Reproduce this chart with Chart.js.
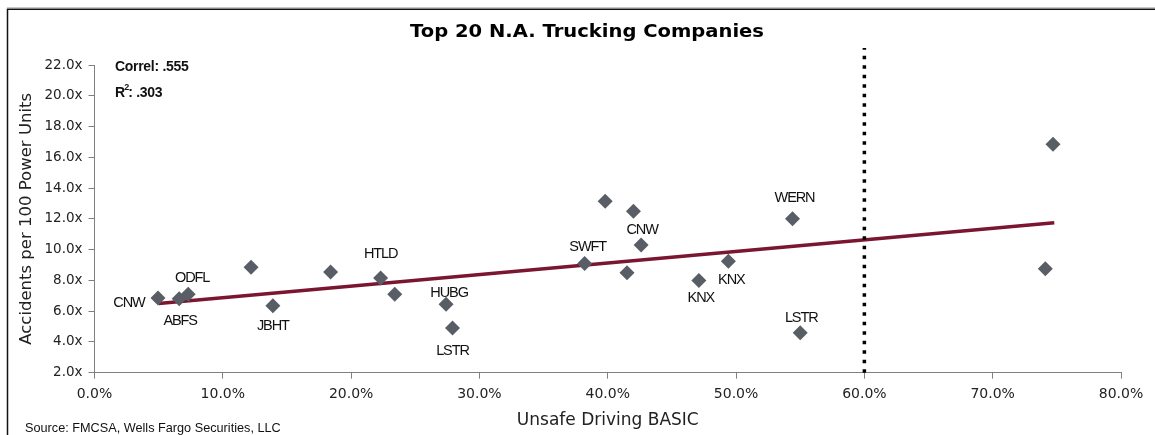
<!DOCTYPE html>
<html><head><meta charset="utf-8">
<script src="https://cdn.jsdelivr.net/npm/chart.js@4.4.1/dist/chart.umd.min.js"></script>
<style>html,body{margin:0;padding:0;background:#fff}#wrap{width:1155px;height:435px;position:relative}</style>
</head><body><div id="wrap"><canvas id="c"></canvas></div>
<script>
const titleText = 'Top 20 N.A. Trucking Companies';
const xAxisTitle = 'Unsafe Driving BASIC';
const yAxisTitle = 'Accidents per 100 Power Units';
const sourceText = 'Source: FMCSA, Wells Fargo Securities, LLC';
const correlText = 'Correl: .555';
const r2Text = ': .303';
const companies = ['CNW','ABFS','ODFL','','JBHT','','HTLD','','HUBG','LSTR','SWFT','','','','CNW','KNX','KNX','WERN','LSTR','',''];
const unsafeDriving = [4.95,6.6,7.3,12.2,13.9,18.4,22.3,23.4,27.4,27.9,38.2,39.8,41.5,42.0,42.6,47.1,49.4,54.4,55.0,74.7,74.1];
const accidents = [6.85,6.8,7.1,8.85,6.35,8.55,8.15,7.1,6.45,4.9,9.1,13.15,8.5,12.5,10.3,8.0,9.25,12.0,4.6,16.85,8.75];
const trendX = [5.0, 74.8];
const trendY = [6.5, 11.75];
const thresholdX = 60;
const thresholdY = [2, 23.1];
const xTicks = [0,10,20,30,40,50,60,70,80];
const yTicks = [2,4,6,8,10,12,14,16,18,20,22];
// label placement (pixel offsets from the point)
const labelOffsets = [[-29,5],[1,22],[4,-16],null,[0,20],null,[0,-24],null,[3,-11],[0,23],[3,-16],null,null,null,[1,-15],[2,18],[3,19],[2,-21],[1,-15],null,null];

const pts = unsafeDriving.map((x,i)=>({x:x, y:accidents[i]}));
const trend = trendX.map((x,i)=>({x:x, y:trendY[i]}));
const thr = thresholdY.map(y=>({x:thresholdX, y:y}));

const deco = {
  id:'deco',
  beforeDraw(chart){
    const ctx = chart.ctx;
    ctx.save();
    ctx.fillStyle='#fff'; ctx.fillRect(0,0,chart.width,chart.height);
    ctx.strokeStyle='#c8c8c8'; ctx.lineWidth=1;
    ctx.beginPath(); ctx.moveTo(7,7.5); ctx.lineTo(1155,7.5); ctx.stroke();
    ctx.strokeStyle='#111'; ctx.lineWidth=1.5;
    ctx.beginPath(); ctx.moveTo(7.5,435); ctx.lineTo(7.5,9.25); ctx.lineTo(1155,9.25); ctx.stroke();
    ctx.restore();
  },
  afterDatasetsDraw(chart){
    const ctx = chart.ctx;
    const meta = chart.getDatasetMeta(0);
    ctx.save();
    ctx.fillStyle='#111';
    ctx.textAlign='center'; ctx.textBaseline='middle';
    ctx.font='14.5px "Liberation Sans", Arial, sans-serif';
    ctx.letterSpacing='-1.1px';
    companies.forEach((name,i)=>{
      if(!name || !labelOffsets[i]) return;
      const el = meta.data[i];
      ctx.fillText(name, el.x + labelOffsets[i][0], el.y + labelOffsets[i][1]);
    });
    // correlation text
    ctx.textAlign='left';
    ctx.letterSpacing='-0.3px';
    ctx.font='bold 14px "Liberation Sans", Arial, sans-serif';
    ctx.fillText(correlText, 115, 67);
    ctx.fillText('R', 115, 93);
    const rw = ctx.measureText('R').width;
    ctx.font='bold 9px "Liberation Sans", Arial, sans-serif';
    ctx.fillText('2', 115 + rw - 0.5, 88);
    ctx.font='bold 14px "Liberation Sans", Arial, sans-serif';
    ctx.fillText(r2Text, 115 + rw + 3.5, 93);
    // title
    ctx.letterSpacing='0px';
    ctx.font='bold 17px "DejaVu Sans", Verdana, sans-serif';
    const tw = ctx.measureText(titleText).width;
    ctx.save();
    ctx.translate(587, 33);
    ctx.scale(354/tw, 1);
    ctx.textAlign='center';
    ctx.fillStyle='#000';
    ctx.fillText(titleText, 0, 0);
    ctx.restore();
    // source
    ctx.font='12.7px "Liberation Sans", Arial, sans-serif';
    ctx.fillStyle='#111';
    ctx.textAlign='left';
    ctx.fillText(sourceText, 25, 428);
    ctx.restore();
  }
};

new Chart(document.getElementById('c'), {
  type:'scatter',
  data:{datasets:[
    {label:'Companies', data:pts, pointStyle:'rectRot', pointRadius:7.5, pointHoverRadius:7.5,
     backgroundColor:'#595e66', borderColor:'#595e66', borderWidth:0, order:0},
    {label:'Threshold', data:thr, showLine:true, pointRadius:0, borderColor:'#000', borderWidth:3.5,
     borderDash:[3.5,6], borderCapStyle:'butt', clip:false, order:1},
    {label:'Trend', data:trend, showLine:true, pointRadius:0, borderColor:'#7b1630', borderWidth:3.5, order:2}
  ]},
  options:{
    responsive:true, maintainAspectRatio:false, animation:false,
    layout:{padding:{left:8, top:65, right:34, bottom:0}},
    plugins:{legend:{display:false}, tooltip:{enabled:false}, title:{display:false}},
    scales:{
      x:{type:'linear', min:0, max:80,
        afterBuildTicks(s){ s.ticks = xTicks.map(v=>({value:v})); },
        afterFit(s){ s.height = 62.3; },
        grid:{display:true, drawOnChartArea:false, drawTicks:true, tickLength:6, color:'#808080'},
        border:{display:true, color:'#808080', width:1},
        ticks:{padding:7, color:'#222', font:{family:'"DejaVu Sans", Verdana, sans-serif', size:14},
          callback:v=>v.toFixed(1)+'%', maxRotation:0},
        title:{display:true, text:xAxisTitle, color:'#222', padding:{top:0,bottom:4},
          font:{family:'"DejaVu Sans", Verdana, sans-serif', size:17}}
      },
      y:{type:'linear', min:2, max:22,
        afterBuildTicks(s){ s.ticks = yTicks.map(v=>({value:v})); },
        afterFit(s){ s.width = 86.5; },
        grid:{display:true, drawOnChartArea:false, drawTicks:true, tickLength:6, color:'#808080'},
        border:{display:true, color:'#808080', width:1},
        ticks:{padding:6, color:'#222', font:{family:'"DejaVu Sans", Verdana, sans-serif', size:13.5},
          callback:v=>v.toFixed(1)+'x'},
        title:{display:true, text:yAxisTitle, color:'#222', padding:{top:9,bottom:0},
          font:{family:'"DejaVu Sans", Verdana, sans-serif', size:16.5}}
      }
    }
  },
  plugins:[deco]
});
</script></body></html>
